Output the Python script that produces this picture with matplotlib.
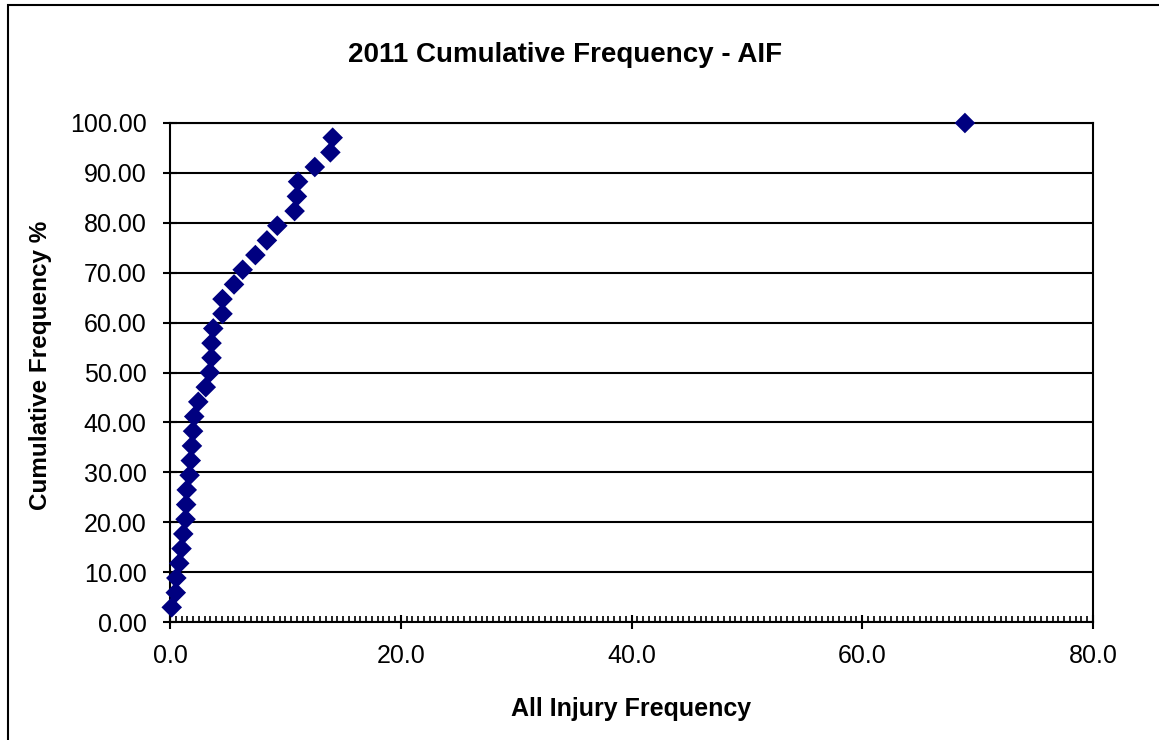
"""2011 cumulative frequency scatter (AIF), Excel-style look."""
import matplotlib
matplotlib.use("Agg")
import matplotlib.pyplot as plt
from matplotlib.patches import Rectangle
from matplotlib.ticker import MultipleLocator, FormatStrFormatter

plt.rcParams["font.family"] = ["Liberation Sans", "DejaVu Sans"]

# All Injury Frequency per site, sorted, against cumulative frequency %
aif = [0.15, 0.5, 0.55, 0.8, 1.0, 1.15, 1.35, 1.4, 1.45, 1.7,
       1.8, 1.9, 2.0, 2.1, 2.45, 3.1, 3.45, 3.6, 3.6, 3.75,
       4.55, 4.55, 5.55, 6.3, 7.4, 8.4, 9.3, 10.8, 11.0, 11.1,
       12.55, 13.9, 14.1, 68.9]
cum_pct = [2.94, 5.88, 8.82, 11.76, 14.71, 17.65, 20.59, 23.53, 26.47, 29.41,
           32.35, 35.29, 38.24, 41.18, 44.12, 47.06, 50.00, 52.94, 55.88, 58.82,
           61.76, 64.71, 67.65, 70.59, 73.53, 76.47, 79.41, 82.35, 85.29, 88.24,
           91.18, 94.12, 97.06, 100.00]

W, H = 1159, 740
fig = plt.figure(figsize=(W / 100, H / 100), dpi=100)
ax = fig.add_axes([170 / W, 1 - 622 / H, (1093 - 170) / W, (622 - 123) / H])

# outer chart-area border (cropped on right and bottom)
fig.patches.append(Rectangle((8 / W, -0.05), 1.1, 1 - 5 / H + 0.05,
                             transform=fig.transFigure, fill=False,
                             edgecolor="black", linewidth=1.5))

ax.scatter(aif, cum_pct, marker="D", s=110, color="#000080",
           edgecolors="none", zorder=3, clip_on=False)

ax.set_xlim(0, 80)
ax.set_ylim(0, 100)
ax.xaxis.set_major_locator(MultipleLocator(20))
ax.xaxis.set_minor_locator(MultipleLocator(0.5))
ax.yaxis.set_major_locator(MultipleLocator(10))
ax.xaxis.set_major_formatter(FormatStrFormatter("%.1f"))
ax.yaxis.set_major_formatter(FormatStrFormatter("%.2f"))

ax.grid(axis="y", color="black", linewidth=1.5)
ax.set_axisbelow(True)
for sp in ax.spines.values():
    sp.set_linewidth(1.5)
    sp.set_color("black")

ax.tick_params(axis="both", which="major", direction="inout", length=10,
               width=1.5, labelsize=18, color="black")
ax.tick_params(axis="x", which="major", pad=11)
ax.tick_params(axis="y", which="major", pad=12)
ax.tick_params(axis="x", which="minor", direction="in", length=4, width=1.2)
ax.tick_params(axis="x", which="minor", top=False)

ax.set_xlabel("All Injury Frequency", fontsize=18, fontweight="bold", labelpad=21)
ax.set_ylabel("Cumulative Frequency %", fontsize=17.5, fontweight="bold", labelpad=13)
ax.yaxis.label.set_y(0.515)
fig.text(565 / W, 1 - 55 / H, "2011 Cumulative Frequency - AIF",
         ha="center", va="center", fontsize=20, fontweight="bold")

fig.savefig("out.png", dpi=100)
